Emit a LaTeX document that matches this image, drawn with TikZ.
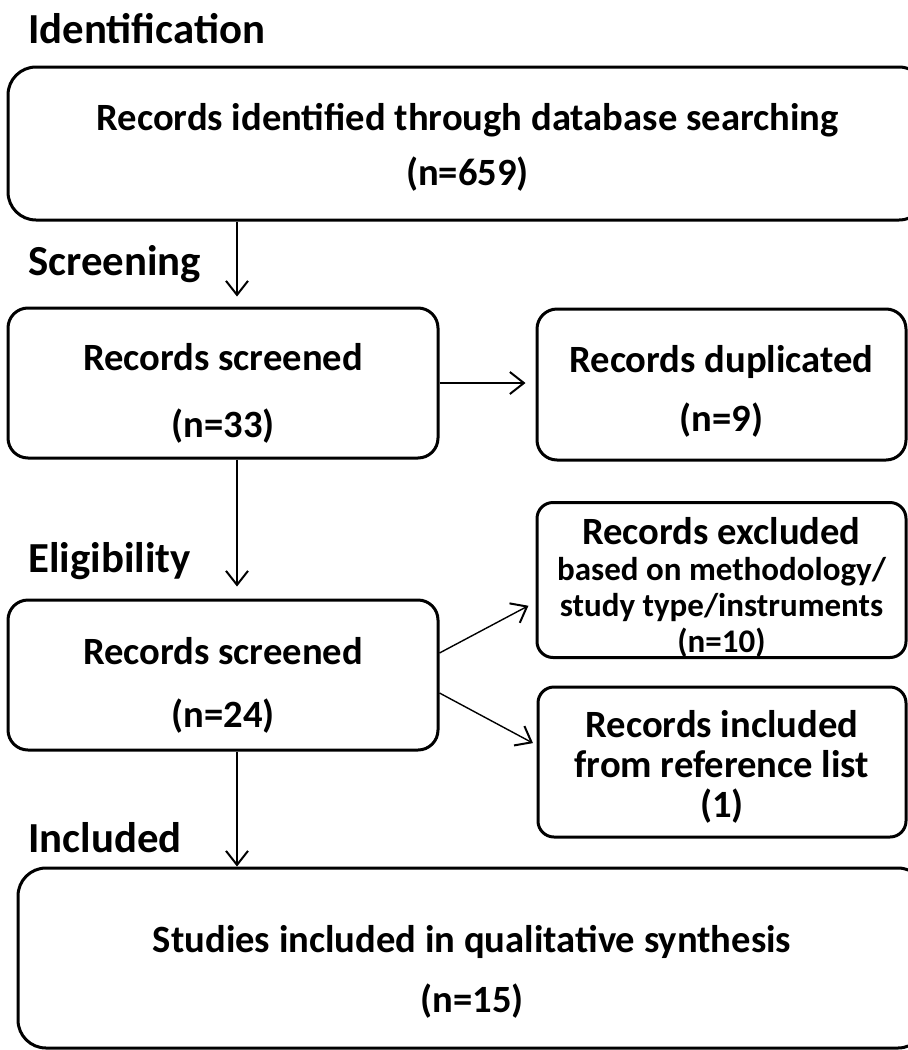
\documentclass[tikz,border=0pt]{standalone}
\usepackage{fontspec}
\setmainfont{Carlito}
\usetikzlibrary{arrows.meta}
\newcommand{\lift}[1]{\rule{0pt}{#1}}

\begin{document}
\begin{tikzpicture}[x=0.5pt,y=-0.5pt,
  phase/.style={anchor=base west,inner sep=0pt,font=\fontsize{21.4}{25}\selectfont\bfseries},
  box/.style={draw,line width=1.5pt,rounded corners=10pt,align=center,inner sep=0pt},
  arr/.style={-{Straight Barb[length=7pt,width=11pt,line width=1pt]},line width=0.7pt}]
  \useasboundingbox (0,0) rectangle (908,1050);
  \coordinate (spine) at (237,0);

  \node[phase] (lid) at (28,43) {Identification};
  \node[phase] (lscr) at (28,275) {Screening};
  \node[phase] (lelig) at (28,572) {Eligibility};
  \node[phase] (lincl) at (28,852) {Included};

  \node[box,rounded corners=14pt,minimum width=459.5pt,minimum height=76.5pt,
    font=\fontsize{19.3}{27.5}\selectfont\bfseries] (ident) at (467.5,143.5)
    {\lift{17pt}Records identified through database searching\\(n=659)};
  \node[box,minimum width=215pt,minimum height=75pt,
    font=\fontsize{19.3}{33.5}\selectfont\bfseries] (screen) at (223,383)
    {\lift{24pt}Records screened\\(n=33)};
  \node[box,minimum width=184.5pt,minimum height=75.5pt,
    font=\fontsize{19.3}{29.5}\selectfont\bfseries] (dup) at (721.5,384.5)
    {\lift{20pt}Records duplicated\\(n=9)};
  \node[box,minimum width=215pt,minimum height=75pt,
    font=\fontsize{19.3}{31.5}\selectfont\bfseries] (elig) at (223,675)
    {\lift{24pt}Records screened\\(n=24)};
  \node[box,rounded corners=8pt,minimum width=184.5pt,minimum height=75pt,
    font=\fontsize{16.5}{18}\selectfont\bfseries] (excl) at (721.5,580)
    {{\fontsize{19.3}{18}\selectfont\lift{21pt}Records excluded}\\based on methodology/\\study type/instruments\\(n=10)};
  \node[box,rounded corners=8pt,minimum width=184pt,minimum height=75pt,
    font=\fontsize{19.3}{20}\selectfont\bfseries] (ref) at (722,762)
    {\lift{18pt}Records included\\from reference list\\(1)};
  \node[box,rounded corners=14pt,minimum width=454pt,minimum height=90pt,
    font=\fontsize{19.3}{30}\selectfont\bfseries] (final) at (472,958)
    {\lift{27pt}Studies included in qualitative synthesis\\(n=15)};

  \draw[arr,shorten >=5pt] (ident.south -| spine) -- (screen.north -| spine);
  \draw[arr,shorten >=5pt] (screen.east) -- (screen.east -| dup.west);
  \draw[arr,shorten >=6pt] (screen.south -| spine) -- (elig.north -| spine);
  \draw[arr,shorten >=4pt] ([yshift=11pt]elig.east) -- ([yshift=-11pt]excl.west);
  \draw[arr,shorten >=2pt] ([yshift=-9pt]elig.east) -- ([yshift=8.5pt]ref.west);
  \draw[arr] (elig.south -| spine) -- (final.north -| spine);
\end{tikzpicture}
\end{document}
